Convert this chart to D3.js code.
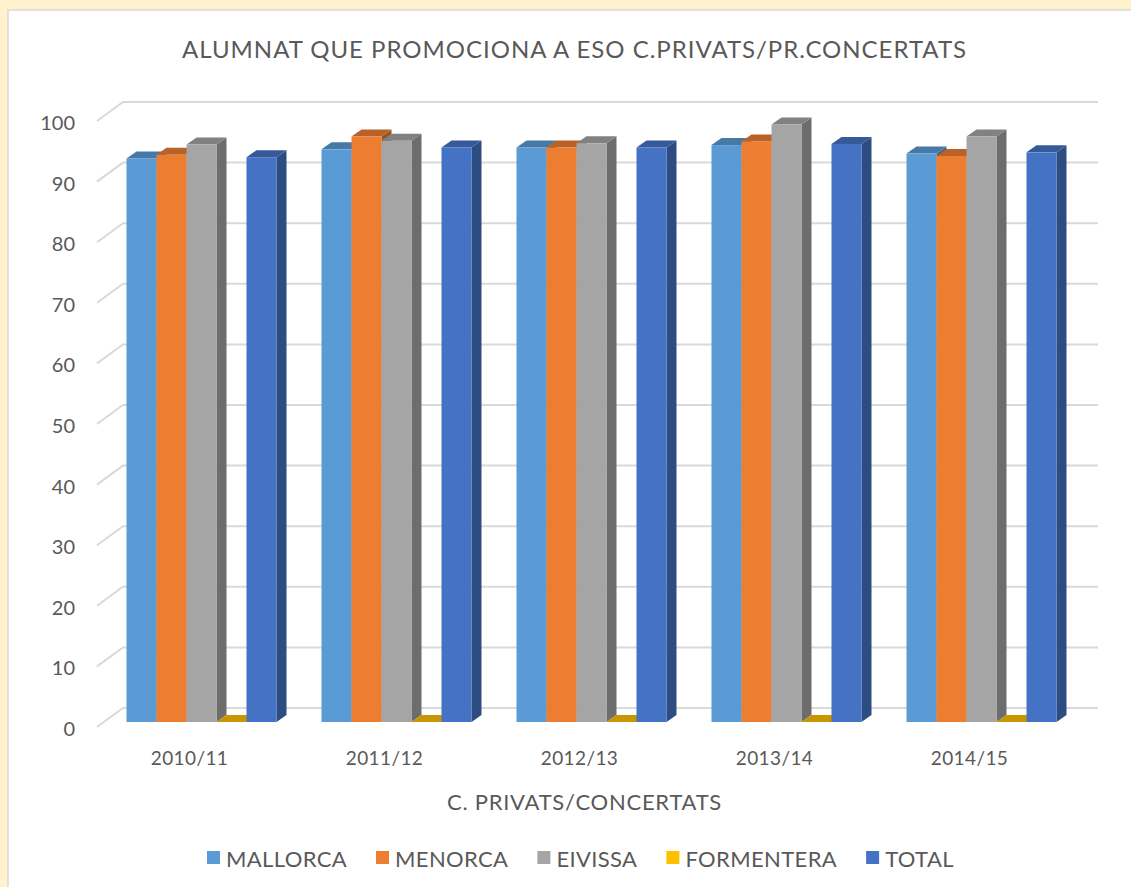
<!DOCTYPE html>
<html>
<head>
<meta charset="utf-8">
<script src="https://cdn.jsdelivr.net/npm/d3@7"></script>
<style>
  body { margin: 0; background: #fff2cc; }
  svg { display: block; }
  text { font-family: Lato, "Open Sans", sans-serif; fill: #595959; }
</style>
</head>
<body>
<script>
const years = ["2010/11", "2011/12", "2012/13", "2013/14", "2014/15"];
const seriesNames = ["MALLORCA", "MENORCA", "EIVISSA", "FORMENTERA", "TOTAL"];
const mallorca = [93.0, 94.5, 94.8, 95.2, 93.8];
const menorca = [93.6, 96.6, 94.8, 95.8, 93.4];
const eivissa = [95.3, 95.9, 95.5, 98.6, 96.6];
const formentera = [0, 0, 0, 0, 0];
const total = [93.2, 94.8, 94.8, 95.4, 94.0];
const yTicks = [0, 10, 20, 30, 40, 50, 60, 70, 80, 90, 100];
const colors = ["#5b9bd5", "#ed7d31", "#a5a5a5", "#ffc000", "#4472c4"];

const values = [mallorca, menorca, eivissa, formentera, total];

const width = 1131, height = 887;

const svg = d3.select("body").append("svg")
  .attr("width", width)
  .attr("height", height);

// stretch text to a target width with letter spacing
function fitWidth(sel, target) {
  const node = sel.node();
  const len = node.getComputedTextLength();
  const n = node.textContent.length;
  sel.style("letter-spacing", ((target - len) / n) + "px");
}

// white chart panel
svg.append("rect")
  .attr("x", 8).attr("y", 10)
  .attr("width", 1140).attr("height", 900)
  .attr("fill", "#fff")
  .attr("stroke", "#d9d9d9")
  .attr("stroke-width", 1.5);

// Title
const title = svg.append("text")
  .attr("x", 182)
  .attr("y", 48)
  .attr("dominant-baseline", "central")
  .style("font-size", "24px")
  .text("ALUMNAT QUE PROMOCIONA A ESO C.PRIVATS/PR.CONCERTATS");
fitWidth(title, 785);

// Scales (front plane of the floor)
const x = d3.scaleBand().domain(years).range([97, 1072]);
const xs = d3.scaleBand().domain(seriesNames).range([22.5, 172.5]);
const y = d3.scaleLinear().domain([0, 100]).range([727, 121]);

const depth = { dx: 26, dy: -19 };   // full floor depth
const barOff = { dx: 7, dy: -5 };    // bar front plane
const barDepth = { dx: 10, dy: -7 }; // bar thickness

// Gridlines on back wall + side wall diagonal
const grid = svg.append("g");
yTicks.forEach(t => {
  const yf = y(t);
  grid.append("path")
    .attr("d", `M97,${yf}L${97 + depth.dx},${yf + depth.dy}L1098,${yf + depth.dy}`)
    .attr("fill", "none")
    .attr("stroke", "#d9d9d9")
    .attr("stroke-width", 2);
});

// Y axis labels
svg.append("g").selectAll("text")
  .data(yTicks)
  .enter()
  .append("text")
  .attr("x", 75)
  .attr("y", d => y(d) + 1)
  .attr("text-anchor", "end")
  .attr("dominant-baseline", "central")
  .style("font-size", "20px")
  .text(d => d);

// Bars
const bars = svg.append("g");
years.forEach((yr, i) => {
  seriesNames.forEach((name, s) => {
    const v = values[s][i];
    const c = d3.color(colors[s]);
    const x0 = x(yr) + barOff.dx + xs(name);
    const w = xs.bandwidth();
    const yb = y(0) + barOff.dy;
    const yt = y(v) + barOff.dy;
    const g = bars.append("g");
    // right side
    g.append("path")
      .attr("d", `M${x0 + w},${yt}L${x0 + w + barDepth.dx},${yt + barDepth.dy}L${x0 + w + barDepth.dx},${yb + barDepth.dy}L${x0 + w},${yb}Z`)
      .attr("fill", c.darker(1.15));
    // top
    g.append("path")
      .attr("d", `M${x0},${yt}L${x0 + barDepth.dx},${yt + barDepth.dy}L${x0 + w + barDepth.dx},${yt + barDepth.dy}L${x0 + w},${yt}Z`)
      .attr("fill", c.darker(0.7));
    // front
    if (yb - yt > 0) {
      g.append("rect")
        .attr("x", x0).attr("y", yt)
        .attr("width", w).attr("height", yb - yt)
        .attr("fill", c);
    }
  });
});

// Category labels
svg.append("g").selectAll("text")
  .data(years)
  .enter()
  .append("text")
  .attr("x", d => x(d) + x.bandwidth() / 2 - 5)
  .attr("y", 757)
  .attr("text-anchor", "middle")
  .attr("dominant-baseline", "central")
  .style("font-size", "19px")
  .style("letter-spacing", "0.4px")
  .text(d => d);

// Axis title
const axTitle = svg.append("text")
  .attr("x", 447)
  .attr("y", 801)
  .attr("dominant-baseline", "central")
  .style("font-size", "22px")
  .text("C. PRIVATS/CONCERTATS");
fitWidth(axTitle, 275);

// Legend
const legend = svg.append("g");
let lx = 207;
let spacing = null;
seriesNames.forEach((name, s) => {
  legend.append("rect")
    .attr("x", lx).attr("y", 851)
    .attr("width", 13).attr("height", 13)
    .attr("fill", colors[s]);
  const t = legend.append("text")
    .attr("x", lx + 19)
    .attr("y", 858)
    .attr("dominant-baseline", "central")
    .style("font-size", "22px")
    .text(name);
  if (spacing === null) {
    fitWidth(t, 121);
    spacing = t.style("letter-spacing");
  } else {
    t.style("letter-spacing", spacing);
  }
  lx += 19 + t.node().getComputedTextLength() + 29;
});
</script>
</body>
</html>
